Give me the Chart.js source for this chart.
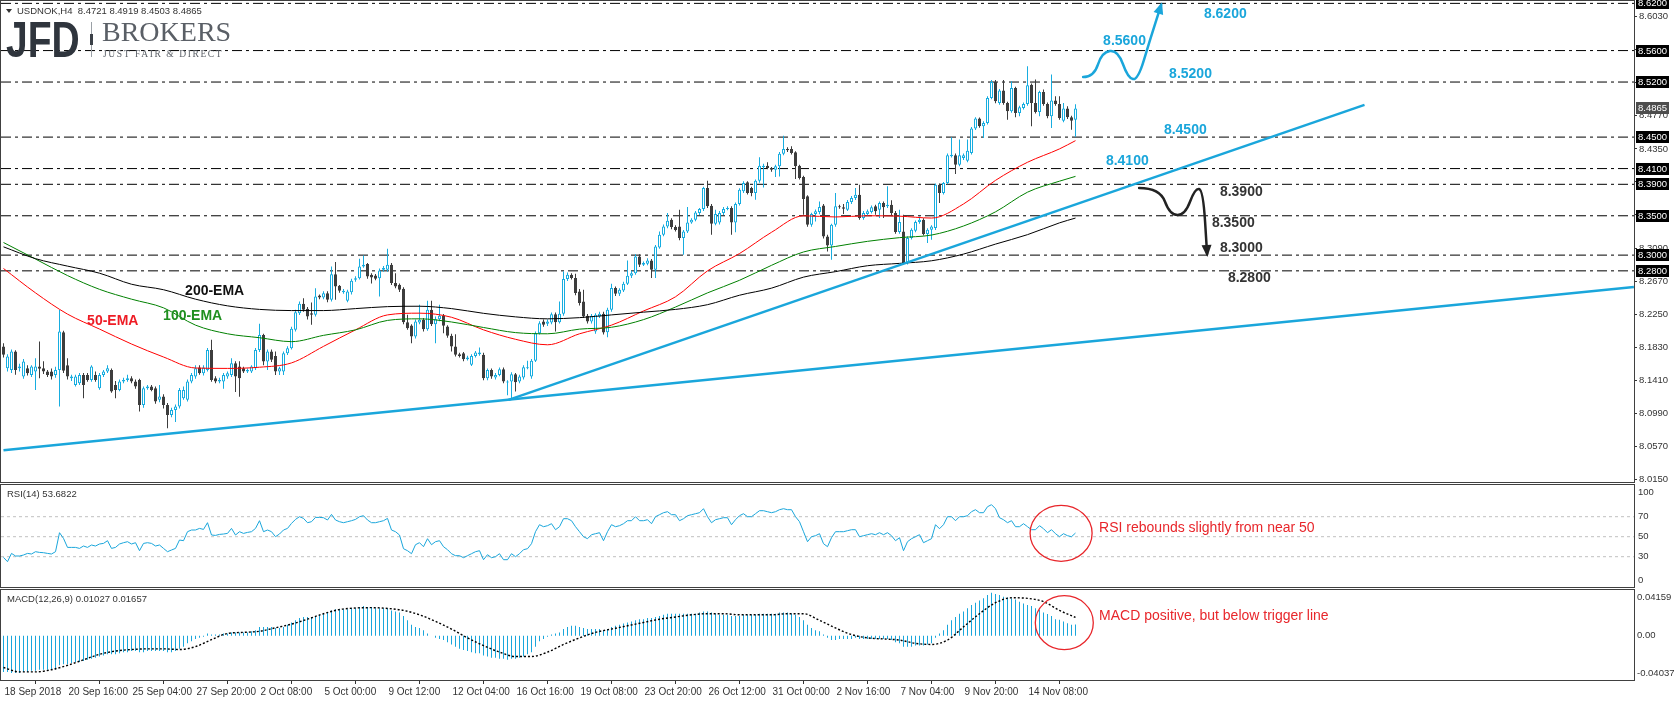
<!DOCTYPE html>
<html>
<head>
<meta charset="utf-8">
<title>USDNOK H4</title>
<script src="https://cdn.jsdelivr.net/npm/chart.js@4.4.1/dist/chart.umd.min.js"></script>
<style>
  html, body { margin: 0; padding: 0; background: #fff; }
  #wrap { position: relative; width: 1674px; height: 701px; overflow: hidden; }
  #wrap canvas { position: absolute; left: 0; top: 0; }
</style>
</head>
<body>
<div id="wrap">
  <canvas id="price" width="1674" height="701"></canvas>
  <canvas id="rsi" width="1674" height="701"></canvas>
  <canvas id="macd" width="1674" height="701"></canvas>
</div>
<script>
// ---- data: USDNOK H4 candles, 18 Sep 2018 -> 16 Nov 2018 (one value per bar) ----
const PRICE_OPEN = [
  8.1838,8.1562,8.1540,8.1774,8.1562,8.1456,8.1562,8.1477,8.1520,8.1583,
  8.1562,8.1520,8.1520,8.1477,8.1541,8.2020,8.1600,8.1435,8.1350,8.1371,
  8.1477,8.1477,8.1414,8.1477,8.1308,8.1477,8.1520,8.1541,8.1350,8.1287,
  8.1393,8.1414,8.1435,8.1393,8.1414,8.1096,8.1308,8.1329,8.1308,8.1160,
  8.1203,8.1096,8.0969,8.1032,8.1075,8.1181,8.1160,8.1393,8.1456,8.1571,
  8.1498,8.1541,8.1795,8.1435,8.1393,8.1393,8.1456,8.1477,8.1626,8.1583,
  8.1562,8.1520,8.1520,8.1562,8.1795,8.1986,8.1647,8.1774,8.1719,8.1520,
  8.1520,8.1753,8.1817,8.2050,8.2262,8.2381,8.2317,8.2262,8.2241,8.2487,
  8.2462,8.2516,8.2432,8.2758,8.2610,8.2529,8.2419,8.2529,8.2686,8.2707,
  8.2856,8.2886,8.2750,8.2741,8.2707,8.2813,8.2813,8.2877,8.2644,8.2623,
  8.2572,8.2148,8.2105,8.1965,8.2144,8.2177,8.2059,8.2305,8.2122,8.2186,
  8.2228,8.2092,8.1974,8.1838,8.1740,8.1753,8.1677,8.1605,8.1719,8.1740,
  8.1732,8.1435,8.1541,8.1443,8.1477,8.1550,8.1380,8.1393,8.1486,8.1393,
  8.1443,8.1562,8.1456,8.1656,8.2008,8.2156,8.2126,8.2143,8.2249,8.2148,
  8.2254,8.2695,8.2750,8.2708,8.2538,8.2411,8.2228,8.2156,8.2029,8.2220,
  8.2254,8.2020,8.2305,8.2581,8.2508,8.2551,8.2636,8.2737,8.2771,8.2983,
  8.2877,8.2890,8.2933,8.2814,8.3098,8.3259,8.3365,8.3450,8.3357,8.3365,
  8.3216,8.3301,8.3416,8.3450,8.3535,8.3586,8.3853,8.3628,8.3399,8.3416,
  8.3535,8.3586,8.3598,8.3416,8.3649,8.3811,8.3925,8.3853,8.3789,8.3946,
  8.4120,8.4137,8.4107,8.4086,8.4128,8.4289,8.4349,8.4349,8.4306,8.4137,
  8.3993,8.3747,8.3386,8.3522,8.3548,8.3632,8.3238,8.3123,8.3386,8.3620,
  8.3607,8.3577,8.3675,8.3725,8.3768,8.3471,8.3522,8.3548,8.3620,8.3577,
  8.3662,8.3620,8.3641,8.3535,8.3293,8.3301,8.2899,8.3217,8.3310,8.3420,
  8.3450,8.3268,8.3323,8.3344,8.3895,8.3789,8.3916,8.4256,8.4268,8.4150,
  8.4235,8.4201,8.4298,8.4608,8.4735,8.4637,8.4680,8.4998,8.5201,8.4934,
  8.5091,8.4934,8.4828,8.5125,8.4807,8.4870,8.4921,8.5167,8.4934,8.4820,
  8.5074,8.4921,8.4764,8.4964,8.4921,8.4709,8.4862,8.4752,8.4721
];
const PRICE_HIGH = [
  8.1880,8.1740,8.1800,8.1790,8.1620,8.1680,8.1600,8.1600,8.1690,8.1902,
  8.1650,8.1540,8.1560,8.1580,8.2305,8.2040,8.1690,8.1480,8.1480,8.1500,
  8.1500,8.1500,8.1600,8.1520,8.1500,8.1540,8.1600,8.1560,8.1400,8.1420,
  8.1440,8.1480,8.1460,8.1420,8.1430,8.1330,8.1350,8.1350,8.1330,8.1350,
  8.1230,8.1120,8.1060,8.1100,8.1310,8.1330,8.1420,8.1500,8.1600,8.1600,
  8.1600,8.1820,8.1923,8.1460,8.1440,8.1500,8.1520,8.1690,8.1650,8.1650,
  8.1580,8.1560,8.1600,8.1820,8.2126,8.2000,8.1800,8.1800,8.1774,8.1580,
  8.1774,8.1840,8.2090,8.2305,8.2410,8.2453,8.2340,8.2398,8.2580,8.2500,
  8.2540,8.2540,8.2856,8.2911,8.2620,8.2570,8.2560,8.2700,8.2730,8.2953,
  8.2996,8.2900,8.2770,8.2760,8.2830,8.2860,8.3081,8.2900,8.2771,8.2640,
  8.2590,8.2241,8.2120,8.2180,8.2368,8.2200,8.2419,8.2419,8.2220,8.2368,
  8.2250,8.2110,8.2000,8.1995,8.1760,8.1770,8.1720,8.1740,8.1780,8.1825,
  8.1760,8.1560,8.1560,8.1500,8.1570,8.1570,8.1410,8.1510,8.1500,8.1480,
  8.1600,8.1656,8.1680,8.2030,8.2160,8.2180,8.2180,8.2270,8.2270,8.2411,
  8.2793,8.2780,8.2770,8.2763,8.2568,8.2559,8.2250,8.2250,8.2260,8.2280,
  8.2280,8.2330,8.2636,8.2600,8.2580,8.2660,8.2933,8.2800,8.3010,8.3010,
  8.2920,8.2960,8.2950,8.3130,8.3301,8.3390,8.3535,8.3470,8.3380,8.3577,
  8.3320,8.3611,8.3470,8.3560,8.3600,8.3870,8.3946,8.3650,8.3577,8.3560,
  8.3610,8.3620,8.3620,8.3670,8.3850,8.3940,8.3938,8.3870,8.3960,8.4243,
  8.4160,8.4180,8.4120,8.4150,8.4310,8.4518,8.4370,8.4383,8.4320,8.4150,
  8.4010,8.3760,8.3540,8.3580,8.3683,8.3650,8.3260,8.3400,8.3789,8.3640,
  8.3649,8.3700,8.3750,8.3853,8.3895,8.3560,8.3580,8.3630,8.3640,8.3680,
  8.3680,8.3874,8.3696,8.3560,8.3577,8.3513,8.3240,8.3340,8.3440,8.3492,
  8.3470,8.3340,8.3380,8.3910,8.3910,8.3930,8.4290,8.4497,8.4290,8.4468,
  8.4290,8.4468,8.4630,8.4752,8.4750,8.4700,8.5020,8.5227,8.5227,8.5110,
  8.5227,8.4950,8.5210,8.5140,8.4900,8.4940,8.5401,8.5180,8.5231,8.5090,
  8.5104,8.4940,8.5295,8.5019,8.5019,8.4934,8.4892,8.4770,8.4919
];
const PRICE_LOW = [
  8.1700,8.1520,8.1500,8.1480,8.1520,8.1430,8.1470,8.1450,8.1287,8.1435,
  8.1490,8.1450,8.1420,8.1440,8.1075,8.1500,8.1420,8.1400,8.1330,8.1350,
  8.1180,8.1390,8.1390,8.1390,8.1290,8.1450,8.1500,8.1250,8.1180,8.1270,
  8.1370,8.1390,8.1370,8.1300,8.1011,8.1060,8.1290,8.1270,8.1110,8.1130,
  8.1050,8.0800,8.0940,8.0880,8.1050,8.1160,8.1140,8.1370,8.1430,8.1480,
  8.1470,8.1520,8.1390,8.1370,8.1370,8.1300,8.1430,8.1450,8.1260,8.1200,
  8.1500,8.1500,8.1500,8.1540,8.1770,8.1600,8.1540,8.1640,8.1477,8.1477,
  8.1477,8.1730,8.1800,8.2030,8.2240,8.2280,8.2180,8.2114,8.2220,8.2440,
  8.2440,8.2400,8.2410,8.2432,8.2520,8.2510,8.2400,8.2500,8.2660,8.2690,
  8.2840,8.2700,8.2640,8.2680,8.2474,8.2790,8.2790,8.2620,8.2580,8.2530,
  8.2120,8.2050,8.1880,8.1940,8.2120,8.2030,8.2040,8.2100,8.1880,8.2160,
  8.2008,8.1950,8.1774,8.1710,8.1700,8.1650,8.1660,8.1590,8.1700,8.1720,
  8.1410,8.1410,8.1430,8.1420,8.1460,8.1370,8.1220,8.1160,8.1266,8.1370,
  8.1420,8.1550,8.1430,8.1640,8.1990,8.2090,8.2100,8.2120,8.2029,8.2130,
  8.2230,8.2670,8.2690,8.2490,8.2360,8.2200,8.2130,8.2130,8.2000,8.2200,
  8.1990,8.1957,8.2280,8.2480,8.2480,8.2530,8.2620,8.2710,8.2750,8.2850,
  8.2860,8.2870,8.2710,8.2710,8.3080,8.3240,8.3340,8.3330,8.3300,8.3190,
  8.3005,8.3280,8.3400,8.3430,8.3510,8.3560,8.3600,8.3259,8.3380,8.3390,
  8.3510,8.3570,8.3259,8.3289,8.3630,8.3790,8.3770,8.3747,8.3705,8.3920,
  8.3860,8.4090,8.4060,8.3993,8.4000,8.4270,8.4310,8.4280,8.3967,8.3960,
  8.3513,8.3360,8.3360,8.3428,8.3520,8.3210,8.3047,8.2941,8.3360,8.3590,
  8.3522,8.3560,8.3650,8.3700,8.3450,8.3450,8.3500,8.3530,8.3513,8.3471,
  8.3471,8.3600,8.3510,8.3270,8.3270,8.2880,8.2880,8.3200,8.3290,8.3400,
  8.3250,8.3153,8.3196,8.3320,8.3662,8.3770,8.3900,8.4240,8.4031,8.4130,
  8.4210,8.4180,8.4280,8.4590,8.4620,8.4489,8.4660,8.4980,8.4930,8.4910,
  8.4910,8.4722,8.4810,8.4752,8.4764,8.4850,8.4900,8.4637,8.4800,8.4764,
  8.4900,8.4740,8.4616,8.4900,8.4720,8.4690,8.4730,8.4595,8.4503
];
const PRICE_CLOSE = [
  8.1732,8.1710,8.1774,8.1540,8.1583,8.1647,8.1499,8.1583,8.1583,8.1554,
  8.1520,8.1477,8.1456,8.1540,8.2029,8.1530,8.1456,8.1456,8.1456,8.1477,
  8.1350,8.1414,8.1583,8.1414,8.1477,8.1520,8.1562,8.1266,8.1287,8.1393,
  8.1414,8.1435,8.1393,8.1329,8.1096,8.1308,8.1329,8.1287,8.1138,8.1203,
  8.1096,8.0969,8.1032,8.1075,8.1287,8.1287,8.1393,8.1477,8.1562,8.1498,
  8.1571,8.1795,8.1414,8.1393,8.1414,8.1477,8.1498,8.1626,8.1456,8.1435,
  8.1520,8.1541,8.1583,8.1795,8.1986,8.1647,8.1774,8.1669,8.1520,8.1562,
  8.1753,8.1817,8.2063,8.2275,8.2381,8.2305,8.2220,8.2241,8.2474,8.2462,
  8.2516,8.2432,8.2758,8.2601,8.2546,8.2546,8.2538,8.2674,8.2707,8.2856,
  8.2877,8.2729,8.2716,8.2699,8.2805,8.2835,8.2877,8.2644,8.2601,8.2559,
  8.2148,8.2071,8.1965,8.2156,8.2177,8.2059,8.2305,8.2122,8.2186,8.2228,
  8.2101,8.1974,8.1838,8.1732,8.1719,8.1677,8.1698,8.1719,8.1761,8.1761,
  8.1435,8.1541,8.1456,8.1477,8.1550,8.1393,8.1393,8.1486,8.1384,8.1456,
  8.1575,8.1575,8.1656,8.2008,8.2135,8.2114,8.2156,8.2249,8.2148,8.2254,
  8.2695,8.2750,8.2708,8.2517,8.2390,8.2220,8.2156,8.2228,8.2241,8.2254,
  8.2016,8.2305,8.2581,8.2508,8.2559,8.2636,8.2737,8.2771,8.2983,8.2877,
  8.2899,8.2933,8.2814,8.3111,8.3259,8.3365,8.3437,8.3357,8.3320,8.3216,
  8.3301,8.3416,8.3450,8.3543,8.3586,8.3853,8.3620,8.3399,8.3522,8.3535,
  8.3586,8.3598,8.3416,8.3649,8.3832,8.3916,8.3789,8.3789,8.3946,8.4137,
  8.4137,8.4107,8.4086,8.4128,8.4289,8.4349,8.4332,8.4298,8.4128,8.3980,
  8.3713,8.3386,8.3522,8.3556,8.3611,8.3238,8.3123,8.3386,8.3620,8.3607,
  8.3590,8.3675,8.3725,8.3768,8.3471,8.3535,8.3556,8.3607,8.3556,8.3662,
  8.3607,8.3641,8.3535,8.3293,8.3420,8.2899,8.3217,8.3323,8.3420,8.3450,
  8.3268,8.3323,8.3365,8.3895,8.3789,8.3916,8.4268,8.4277,8.4150,8.4268,
  8.4268,8.4328,8.4608,8.4735,8.4637,8.4680,8.4998,8.5201,8.4955,8.5091,
  8.4934,8.4828,8.5125,8.4807,8.4879,8.4921,8.5159,8.4934,8.4820,8.5074,
  8.4921,8.4764,8.4964,8.4921,8.4743,8.4862,8.4752,8.4709,8.4865
];

// moving averages, read every 8 bars
const EMA_BARS = [0,8,16,24,32,40,48,56,64,72,80,88,96,104,112,120,128,136,144,152,160,168,176,184,192,200,208,216,224,232,240,248,256,264,268];
const EMA_50 = [8.2830,8.2520,8.2250,8.2060,8.1870,8.1705,8.1565,8.1560,8.1575,8.1630,8.1840,8.2050,8.2240,8.2262,8.2210,8.2050,8.1930,8.1860,8.2000,8.2110,8.2290,8.2470,8.2800,8.3020,8.3290,8.3500,8.3485,8.3500,8.3495,8.3471,8.3650,8.3950,8.4180,8.4350,8.4455];
const EMA_100 = [8.3160,8.2950,8.2740,8.2565,8.2440,8.2330,8.2110,8.2000,8.1950,8.1900,8.1980,8.2050,8.2170,8.2190,8.2150,8.2080,8.2015,8.2000,8.2059,8.2083,8.2180,8.2340,8.2520,8.2680,8.2870,8.3040,8.3110,8.3175,8.3222,8.3255,8.3370,8.3550,8.3800,8.3940,8.4001];
const EMA_200 = [8.3105,8.2955,8.2860,8.2770,8.2630,8.2560,8.2440,8.2355,8.2310,8.2295,8.2295,8.2320,8.2345,8.2350,8.2320,8.2260,8.2215,8.2190,8.2205,8.2240,8.2275,8.2310,8.2370,8.2490,8.2580,8.2720,8.2790,8.2865,8.2895,8.2928,8.3013,8.3140,8.3260,8.3410,8.3471];

// trend lines [bar, price]
const TREND_LONG = [[0, 8.0519], [407.6, 8.2594]];
const TREND_UP = [[126.25, 8.1160], [340.25, 8.4910]];

const LEVELS = [8.62, 8.56, 8.52, 8.45, 8.41, 8.39, 8.35, 8.30, 8.28];
const LAST_PRICE = 8.4865;
const PRICE_TICKS = [8.0150,8.0570,8.0990,8.1410,8.1830,8.2250,8.2670,8.3090,8.3510,8.3930,8.4350,8.4770,8.5190,8.5610,8.6030];

const RSI_14 = [
  29.3,25,33.3,30.7,30.7,31.7,33.3,32.7,35,34.3,34,33.3,32.7,35,
  54,48.3,39.3,39.3,39.3,38.3,40.7,39.3,41.7,40.7,42.7,43.3,46,38.3,
  39.3,42.7,44,45,42.7,44,36,43.3,44,43.3,40.7,41.7,38.3,35,
  36.7,38.3,46.7,46,55,56.7,56.7,58.3,57.3,64,51.7,51.3,52.3,52.7,
  53.3,58.3,51.7,55,53.3,54.3,55,58.3,66,55,56.7,55,50,52.7,
  56.7,58.3,63.3,67.3,70,68.3,64,65,69.3,69.3,69,66.7,72.3,66.7,
  65,64,65,66,67.3,70,71,66.7,64,64,65,66,68.3,56.7,55,51.7,
  38,36,33,42,44,
  40,48,42,45,46,40,
  37,33,31,31,29,31,33,35,36,
  27,32,29,30,33,27,27,
  33,30,33,37,38,43,55,
  62,60,61,63,57,60,68,
  68,66,60,55,50,48,52,53,54,46,55,
  62,60,61,63,66,66,70,66,66,67,63,70,72,74,
  75,72,72,66,68,71,72,73,74,78,70,
  64,67,68,69,69,62,67,71,73,70,70,73,76,
  76,75,74,75,77,78,77,77,70,65,55,
  45,50,51,53,43,40,49,55,55,55,56,57,
  57,50,51,52,53,52,54,52,54,51,46,49,
  36,45,48,50,52,44,46,48,62,58,62,
  70,70,66,70,70,71,75,77,74,74,80,82,78,
  69,67,64,66,60,60,63,60,57,57,61,58,54,57,53,50,53,51,50,53.6822
];
const RSI_LEVELS = [70, 50, 30];

const MACD_MAIN = [
  -0.033,-0.033,-0.034,-0.034,-0.034,-0.033,-0.033,-0.032,-0.032,-0.031,-0.031,-0.031,-0.031,
  -0.031,-0.027,-0.026,-0.026,
  -0.025,-0.024,-0.024,
  -0.023,-0.022,-0.021,-0.020,
  -0.019,-0.018,-0.017,-0.017,
  -0.017,-0.016,-0.015,-0.015,-0.014,-0.014,
  -0.015,-0.015,-0.014,-0.014,-0.014,-0.014,-0.014,-0.015,
  -0.015,-0.014,-0.012,-0.010,-0.007,-0.005,
  -0.003,-0.002,-0.001,0.002,0.001,0.001,
  0.001,0.002,0.002,0.003,0.003,0.003,0.003,0.003,0.004,0.005,
  0.008,0.008,0.008,0.008,0.007,0.007,
  0.008,0.010,0.012,0.014,0.016,0.017,0.017,0.017,0.018,0.019,
  0.020,0.021,0.023,0.024,0.024,0.024,0.024,0.025,0.025,0.026,
  0.027,0.026,0.026,0.025,0.025,0.025,0.025,0.023,0.022,0.021,
  0.018,0.014,0.010,0.008,0.007,0.005,
  0.002,0.000,-0.002,-0.003,-0.004,-0.006,
  -0.008,-0.010,-0.012,-0.013,-0.014,-0.015,-0.016,-0.016,
  -0.018,-0.019,-0.020,-0.020,-0.021,-0.021,-0.022,-0.021,
  -0.021,-0.020,-0.019,-0.017,-0.015,-0.010,
  -0.005,-0.003,-0.001,0.001,0.002,0.003,
  0.006,0.008,0.009,0.009,0.008,0.007,
  0.006,0.006,0.006,0.006,0.005,0.006,0.008,0.009,
  0.010,0.011,0.012,0.013,0.014,0.015,0.015,0.016,
  0.016,0.017,0.018,0.019,0.020,0.020,0.020,0.020,
  0.020,0.020,0.020,0.020,0.021,0.022,0.022,0.021,
  0.020,0.019,0.019,0.019,0.018,0.018,0.018,0.019,
  0.019,0.019,0.019,0.020,0.020,0.020,0.020,0.020,
  0.021,0.021,0.021,0.020,0.019,0.017,0.014,0.010,
  0.007,0.005,0.004,0.001,-0.002,-0.004,-0.004,-0.003,
  -0.003,-0.003,-0.003,-0.002,-0.003,-0.003,-0.003,-0.003,
  -0.003,-0.003,-0.003,-0.003,-0.004,-0.006,-0.007,-0.010,
  -0.010,-0.010,-0.009,-0.009,-0.009,-0.008,-0.007,-0.002,
  0.002,0.005,0.010,0.014,0.017,0.020,0.022,0.025,
  0.028,0.030,0.032,0.034,0.037,0.039,0.038,0.037,
  0.0354,0.0348,0.0339,0.0330,0.0310,0.0294,0.0280,0.0270,0.0250,0.0234,
  0.0210,0.0198,0.0180,0.0150,0.0144,0.0130,0.0114,0.0100,0.01027
];
// signal line, read every 4 bars
const MACD_SIGNAL_BARS = [0,4,8,12,16,20,24,28,32,36,40,44,48,52,56,60,64,68,72,76,80,84,88,92,96,100,104,108,112,116,120,124,128,132,136,140,144,148,152,156,160,164,168,172,176,180,184,188,192,196,200,204,208,212,216,220,224,228,232,236,240,244,248,252,256,260,264,268];
const MACD_SIGNAL = [-0.029,-0.033,-0.033,-0.031,-0.027,-0.022,-0.017,-0.014,-0.0126,-0.012,-0.012,-0.0126,-0.010,-0.0036,0.002,0.003,0.004,0.0072,0.0105,0.015,0.020,0.0238,0.0252,0.0255,0.0248,0.023,0.019,0.013,0.006,-0.002,-0.009,-0.015,-0.019,-0.019,-0.015,-0.008,-0.002,0.003,0.006,0.009,0.012,0.015,0.017,0.019,0.020,0.020,0.019,0.019,0.019,0.020,0.020,0.014,0.007,0.001,-0.002,-0.003,-0.004,-0.007,-0.008,-0.004,0.008,0.020,0.030,0.0345,0.034,0.031,0.023,0.01657];

const X_TICK_BARS = [0,16,32,48,64,80,96,112,128,144,160,176,192,208,224,240,256];
const X_TICK_LABELS = ['18 Sep 2018','20 Sep 16:00','25 Sep 04:00','27 Sep 20:00','2 Oct 08:00','5 Oct 00:00','9 Oct 12:00','12 Oct 04:00','16 Oct 16:00','19 Oct 08:00','23 Oct 20:00','26 Oct 12:00','31 Oct 00:00','2 Nov 16:00','7 Nov 04:00','9 Nov 20:00','14 Nov 08:00'];

// ---- look ----
const UP = '#17ade0';
const DOWN = '#3d3d3d';
const LINE_BLUE = '#1aa6db';
const FRAME = '#404040';
const TXT = '#333';
const RED = '#e8262b';
const SANS = '"Liberation Sans", Arial, sans-serif';
const SMALL = 9.5;
const X_MIN = -0.625, X_MAX = 407.625;
const AXIS_W = 40;

const bars = PRICE_OPEN.map((_, i) => i);
const isUp = i => PRICE_CLOSE[i] >= PRICE_OPEN[i];

function noPad(s) { s.paddingTop = 0; s.paddingBottom = 0; s.paddingLeft = 0; s.paddingRight = 0; }
function hiddenX() {
  return { type: 'linear', min: X_MIN, max: X_MAX, offset: false, display: false };
}
function rightAxis(min, max) {
  return {
    type: 'linear', position: 'right', min, max,
    afterFit: s => { s.width = AXIS_W; noPad(s); },
    ticks: { display: false }, grid: { display: false }, border: { display: false }
  };
}
const baseOpts = {
  responsive: false, animation: false, events: [],
  plugins: { legend: { display: false }, tooltip: { enabled: false } }
};

function frame(ctx, a) {
  ctx.strokeStyle = FRAME; ctx.lineWidth = 1;
  ctx.strokeRect(a.left - 0.5, a.top - 0.5, a.right - a.left + 1, a.bottom - a.top + 1);
}
function smoothPath(ctx, pts) {
  ctx.beginPath();
  ctx.moveTo(pts[0][0], pts[0][1]);
  for (let i = 1; i < pts.length - 1; i++) {
    const mx = (pts[i][0] + pts[i + 1][0]) / 2, my = (pts[i][1] + pts[i + 1][1]) / 2;
    ctx.quadraticCurveTo(pts[i][0], pts[i][1], mx, my);
  }
  const n = pts.length - 1;
  ctx.lineTo(pts[n][0], pts[n][1]);
  ctx.stroke();
  const [x1, y1] = pts[n - 1], [x2, y2] = pts[n];
  const ang = Math.atan2(y2 - y1, x2 - x1);
  const c = Math.cos(ang), s = Math.sin(ang);
  ctx.beginPath();
  ctx.moveTo(x2 + c * 3, y2 + s * 3);
  ctx.lineTo(x2 - c * 9 - s * 5, y2 - s * 9 + c * 5);
  ctx.lineTo(x2 - c * 9 + s * 5, y2 - s * 9 - c * 5);
  ctx.closePath();
  ctx.fill();
}

// annotation anchors in chart units [bar, price]
const NOTES = [
  { t: '8.6200', b: 300.1, p: 8.6064, c: LINE_BLUE },
  { t: '8.5600', b: 274.9, p: 8.5714, c: LINE_BLUE },
  { t: '8.5200', b: 291.4, p: 8.5305, c: LINE_BLUE },
  { t: '8.4500', b: 290.1, p: 8.4590, c: LINE_BLUE },
  { t: '8.4100', b: 275.6, p: 8.4196, c: LINE_BLUE },
  { t: '8.3900', b: 304.1, p: 8.3802, c: TXT },
  { t: '8.3500', b: 302.1, p: 8.3408, c: TXT },
  { t: '8.3000', b: 304.1, p: 8.3090, c: TXT },
  { t: '8.2800', b: 306.1, p: 8.2709, c: TXT }
];
const EMA_NOTES = [
  { t: '200-EMA', b: 45.4, p: 8.2543, c: '#111' },
  { t: '100-EMA', b: 39.9, p: 8.2229, c: '#1f8f1f' },
  { t: '50-EMA', b: 20.9, p: 8.2162, c: '#ee1c25' }
];
const BULL_PATH = [[269.9, 8.5263], [272.6, 8.5263], [274.6, 8.5581], [278.6, 8.5607], [281.1, 8.5251], [283.6, 8.5225], [286.6, 8.5734], [289.4, 8.6179]];
const BEAR_PATH = [[283.9, 8.3853], [289.1, 8.3853], [291.6, 8.3510], [295.4, 8.3510], [297.9, 8.3853], [299.9, 8.3828], [300.9, 8.3014]];

const priceDecor = {
  id: 'priceDecor',
  afterDraw(chart) {
    const { ctx, chartArea: a } = chart;
    const xs = chart.scales.x, ys = chart.scales.y;
    const P = ([b, p]) => [xs.getPixelForValue(b), ys.getPixelForValue(p)];
    ctx.save();
    frame(ctx, a);

    ctx.font = 'bold 14px ' + SANS;
    ctx.textBaseline = 'middle'; ctx.textAlign = 'left';
    EMA_NOTES.forEach(n => { ctx.fillStyle = n.c; ctx.fillText(n.t, xs.getPixelForValue(n.b), ys.getPixelForValue(n.p)); });

    ctx.lineWidth = 2.5; ctx.lineCap = 'round'; ctx.lineJoin = 'round';
    ctx.strokeStyle = LINE_BLUE; ctx.fillStyle = LINE_BLUE;
    smoothPath(ctx, BULL_PATH.map(P));
    ctx.strokeStyle = '#222'; ctx.fillStyle = '#222';
    smoothPath(ctx, BEAR_PATH.map(P));

    ctx.font = 'bold 14px ' + SANS;
    NOTES.forEach(n => { ctx.fillStyle = n.c; ctx.fillText(n.t, xs.getPixelForValue(n.b), ys.getPixelForValue(n.p)); });

    // level boxes on the price axis
    ctx.font = SMALL + 'px ' + SANS; ctx.textAlign = 'left';
    const box = (v, col) => {
      const y = Math.round(ys.getPixelForValue(v));
      ctx.fillStyle = col; ctx.fillRect(a.right + 2, y - 6, 33, 12);
      ctx.fillStyle = '#fff'; ctx.fillText(v.toFixed(4), a.right + 4, y + 0.5);
    };
    LEVELS.forEach(v => box(v, '#000'));
    box(LAST_PRICE, '#4d4d4d');

    // header
    ctx.fillStyle = '#333';
    ctx.beginPath(); ctx.moveTo(6, 9); ctx.lineTo(12, 9); ctx.lineTo(9, 13); ctx.closePath(); ctx.fill();
    ctx.font = SMALL + 'px ' + SANS; ctx.fillStyle = TXT;
    ctx.fillText('USDNOK,H4  8.4721 8.4919 8.4503 8.4865', 17, 11.5);

    // logo
    ctx.save();
    const g = ctx.createLinearGradient(0, 21, 0, 57);
    g.addColorStop(0, '#2f353d'); g.addColorStop(1, '#5b626b');
    ctx.fillStyle = g; ctx.textBaseline = 'alphabetic';
    ctx.translate(6, 57); ctx.scale(0.78, 1);
    ctx.font = 'bold 50px ' + SANS; ctx.fillText('JFD', 0, 0);
    ctx.restore();
    ctx.fillStyle = '#9aa0a6'; ctx.fillRect(91, 22, 1, 35);
    ctx.fillStyle = '#3b4048'; ctx.fillRect(90, 34, 3, 11);
    ctx.fillStyle = '#5a5f66'; ctx.textBaseline = 'alphabetic';
    ctx.font = '28px "Liberation Serif", serif'; ctx.fillText('BROKERS', 102, 41);
    ctx.font = '9.5px "Liberation Serif", serif';
    ctx.letterSpacing = '1.6px';
    ctx.fillText('JUST FAIR & DIRECT', 103, 57);
    ctx.letterSpacing = '0px';
    ctx.restore();
  }
};

new Chart(document.getElementById('price'), {
  type: 'bar',
  data: {
    datasets: [
      ...LEVELS.map(v => ({
        type: 'line', data: [{ x: X_MIN, y: v }, { x: X_MAX, y: v }],
        borderColor: '#000', borderWidth: 1, borderDash: [10, 4, 3, 4], pointRadius: 0, order: 10
      })),
      {
        type: 'bar', data: bars.map(i => ({ x: i, y: [PRICE_LOW[i], PRICE_HIGH[i]] })),
        backgroundColor: bars.map(i => isUp(i) ? UP : DOWN),
        barThickness: 1, grouped: false, borderWidth: 0, inflateAmount: 0, order: 8
      },
      {
        type: 'bar', data: bars.map(i => ({ x: i, y: [PRICE_OPEN[i], PRICE_CLOSE[i]] })),
        backgroundColor: bars.map(i => isUp(i) ? '#fff' : DOWN),
        borderColor: bars.map(i => isUp(i) ? UP : DOWN),
        borderWidth: 1, borderSkipped: false, barThickness: 3, minBarLength: 1,
        grouped: false, inflateAmount: 0, order: 7
      },
      { type: 'line', data: EMA_BARS.map((b, k) => ({ x: b, y: EMA_200[k] })), borderColor: '#000', borderWidth: 1, pointRadius: 0, cubicInterpolationMode: 'monotone', order: 5 },
      { type: 'line', data: EMA_BARS.map((b, k) => ({ x: b, y: EMA_100[k] })), borderColor: '#008000', borderWidth: 1, pointRadius: 0, cubicInterpolationMode: 'monotone', order: 5 },
      { type: 'line', data: EMA_BARS.map((b, k) => ({ x: b, y: EMA_50[k] })), borderColor: '#ff0000', borderWidth: 1, pointRadius: 0, cubicInterpolationMode: 'monotone', order: 5 },
      { type: 'line', data: TREND_LONG.map(([x, y]) => ({ x, y })), borderColor: LINE_BLUE, borderWidth: 2.5, pointRadius: 0, order: 1 },
      { type: 'line', data: TREND_UP.map(([x, y]) => ({ x, y })), borderColor: LINE_BLUE, borderWidth: 2.5, pointRadius: 0, order: 1 }
    ]
  },
  options: {
    ...baseOpts,
    layout: { padding: { left: 1, top: 1, right: 0, bottom: 219 } },
    scales: {
      x: hiddenX(),
      y: {
        type: 'linear', position: 'right', min: 8.0116, max: 8.6230,
        afterFit: s => { s.width = AXIS_W; noPad(s); },
        afterBuildTicks: s => { s.ticks = PRICE_TICKS.map(v => ({ value: v })); },
        ticks: { autoSkip: false, padding: 2, color: TXT, font: { family: SANS, size: SMALL }, callback: v => v.toFixed(4) },
        grid: { drawOnChartArea: false, tickLength: 3, color: '#333' },
        border: { display: false }
      }
    }
  },
  plugins: [priceDecor]
});

const rsiDecor = {
  id: 'rsiDecor',
  afterDraw(chart) {
    const { ctx, chartArea: a } = chart;
    const xs = chart.scales.x, ys = chart.scales.y;
    ctx.save();
    frame(ctx, a);
    ctx.font = SMALL + 'px ' + SANS; ctx.fillStyle = TXT; ctx.textBaseline = 'middle'; ctx.textAlign = 'left';
    ctx.fillText('RSI(14) ' + RSI_14[RSI_14.length - 1].toFixed(4), 7, a.top + 9);
    [100, 70, 50, 30, 0].forEach(v => {
      const y = Math.min(Math.max(ys.getPixelForValue(v), a.top + 7), a.bottom - 7);
      ctx.fillText(String(v), a.right + 4, y);
    });
    ctx.strokeStyle = RED; ctx.lineWidth = 1.3;
    ctx.beginPath(); ctx.ellipse(xs.getPixelForValue(264.4), ys.getPixelForValue(53.4), 31, 28, 0, 0, Math.PI * 2); ctx.stroke();
    ctx.fillStyle = RED; ctx.font = '14px ' + SANS;
    ctx.fillText('RSI rebounds slightly from near 50', xs.getPixelForValue(273.9), ys.getPixelForValue(58.4));
    ctx.restore();
  }
};

new Chart(document.getElementById('rsi'), {
  type: 'line',
  data: {
    datasets: [
      ...RSI_LEVELS.map(v => ({
        data: [{ x: X_MIN, y: v }, { x: X_MAX, y: v }],
        borderColor: '#c0c0c0', borderWidth: 1, borderDash: [3, 3], pointRadius: 0, order: 5
      })),
      { data: RSI_14.map((v, i) => ({ x: i, y: v })), borderColor: LINE_BLUE, borderWidth: 1, pointRadius: 0, tension: 0, order: 1 }
    ]
  },
  options: {
    ...baseOpts,
    layout: { padding: { left: 1, top: 485, right: 0, bottom: 114 } },
    scales: { x: hiddenX(), y: rightAxis(-0.3, 101.7) }
  },
  plugins: [rsiDecor]
});

const macdDecor = {
  id: 'macdDecor',
  afterDraw(chart) {
    const { ctx, chartArea: a } = chart;
    const xs = chart.scales.x, ys = chart.scales.y;
    ctx.save();
    frame(ctx, a);
    ctx.font = SMALL + 'px ' + SANS; ctx.fillStyle = TXT; ctx.textBaseline = 'middle'; ctx.textAlign = 'left';
    ctx.fillText('MACD(12,26,9) ' + MACD_MAIN[MACD_MAIN.length - 1].toFixed(5) + ' ' + MACD_SIGNAL[MACD_SIGNAL.length - 1].toFixed(5), 7, a.top + 9);
    [[ys.max, '0.04159'], [0, '0.00'], [ys.min, '-0.04037']].forEach(([v, t]) => {
      const y = Math.min(Math.max(ys.getPixelForValue(v), a.top + 7), a.bottom - 7);
      ctx.fillText(t, a.right + 3, y);
    });
    ctx.strokeStyle = RED; ctx.lineWidth = 1.3;
    ctx.beginPath(); ctx.ellipse(xs.getPixelForValue(265.2), ys.getPixelForValue(0.0118), 29, 27, 0, 0, Math.PI * 2); ctx.stroke();
    ctx.fillStyle = RED; ctx.font = '14px ' + SANS;
    ctx.fillText('MACD positive, but below trigger line', xs.getPixelForValue(273.9), ys.getPixelForValue(0.0182));
    ctx.restore();
  }
};

new Chart(document.getElementById('macd'), {
  type: 'bar',
  data: {
    datasets: [
      {
        type: 'bar', data: MACD_MAIN.map((v, i) => ({ x: i, y: v })),
        backgroundColor: LINE_BLUE, barThickness: 1, grouped: false, borderWidth: 0, inflateAmount: 0, order: 3
      },
      {
        type: 'line', data: MACD_SIGNAL_BARS.map((b, k) => ({ x: b, y: MACD_SIGNAL[k] })),
        borderColor: '#000', borderWidth: 1.4, borderDash: [2, 2], pointRadius: 0,
        cubicInterpolationMode: 'monotone', order: 1
      }
    ]
  },
  options: {
    ...baseOpts,
    layout: { padding: { left: 1, top: 590, right: 0, bottom: 0 } },
    scales: {
      x: {
        type: 'linear', min: X_MIN, max: X_MAX, offset: false, position: 'bottom',
        afterBuildTicks: s => { s.ticks = X_TICK_BARS.map(v => ({ value: v })); },
        afterFit: s => { s.height = 21; noPad(s); },
        ticks: {
          autoSkip: false, maxRotation: 0, minRotation: 0, align: 'start', labelOffset: 1, padding: 2,
          color: TXT, font: { family: SANS, size: 10 },
          callback: v => X_TICK_LABELS[X_TICK_BARS.indexOf(v)]
        },
        grid: { drawOnChartArea: false, tickLength: 4, color: '#333' },
        border: { display: false }
      },
      y: rightAxis(-0.04037, 0.04159)
    }
  },
  plugins: [macdDecor]
});
</script>
</body>
</html>
